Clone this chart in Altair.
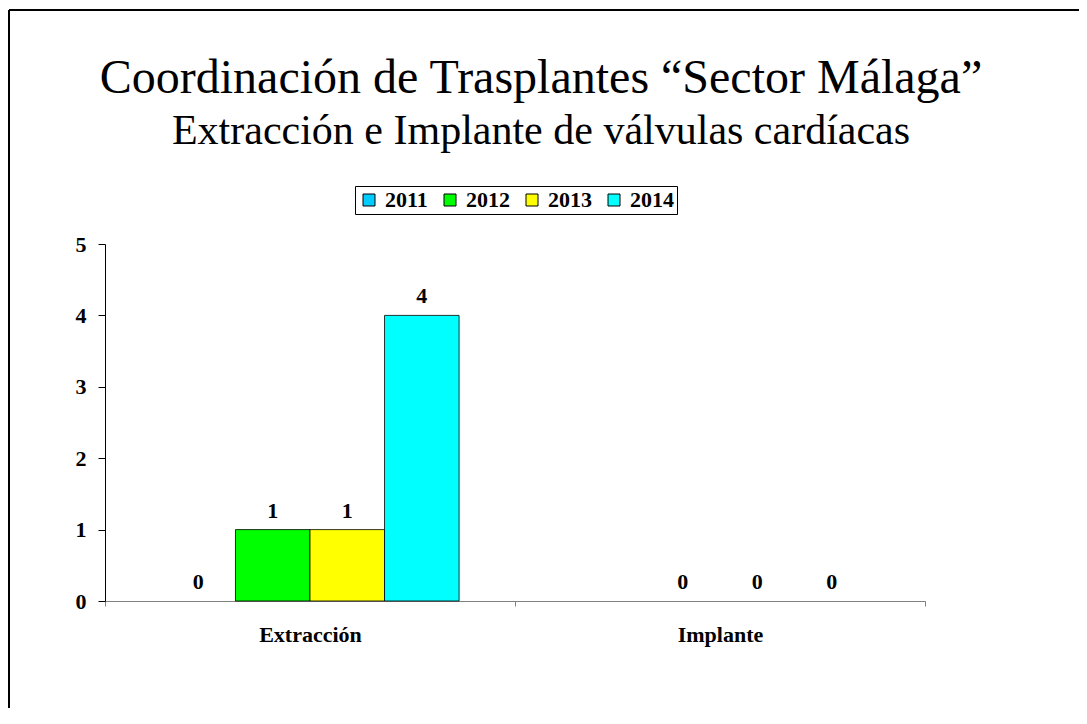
import altair as alt
import pandas as pd

categories = ["Extracción", "Implante"]
years = ["2011", "2012", "2013", "2014"]
extraccion = [0, 1, 1, 4]
implante = [None, 0, 0, 0]
colors = ["#00CCFF", "#00FF00", "#FFFF00", "#00FFFF"]

rows = []
for cat, vals in zip(categories, [extraccion, implante]):
    for y, v in zip(years, vals):
        rows.append({"categoria": cat, "year": y, "value": v})
df = pd.DataFrame(rows)

SERIF = "Liberation Serif"

x_enc = alt.X(
    "categoria:N",
    sort=categories,
    scale=alt.Scale(paddingInner=0, paddingOuter=0),
    axis=alt.Axis(
        title=None, labelAngle=0, domainColor="#808080", tickColor="#808080",
        tickBand="extent", tickSize=5, labelFont=SERIF, labelFontSize=22,
        labelFontWeight="bold", labelColor="black", labelPadding=18,
    ),
)
xo_enc = alt.XOffset("year:N", sort=years,
                     scale=alt.Scale(paddingOuter=0.75, paddingInner=0))
y_enc = alt.Y(
    "value:Q",
    scale=alt.Scale(domain=[0, 5]),
    axis=alt.Axis(
        title=None, values=[0, 1, 2, 3, 4, 5], grid=False, domainColor="black",
        tickColor="black", tickSize=7, labelFont=SERIF, labelFontSize=22,
        labelFontWeight="bold", labelColor="black", labelPadding=12,
    ),
)

base = alt.Chart(df)

bars = base.transform_filter("datum.value > 0").mark_bar(
    stroke="black", strokeWidth=0.8
).encode(
    x=x_enc, xOffset=xo_enc, y=y_enc,
    color=alt.Color(
        "year:N",
        scale=alt.Scale(domain=years, range=colors),
        legend=alt.Legend(
            title=None, orient="none", legendX=250, legendY=-58,
            direction="horizontal", symbolType="square", symbolSize=144,
            symbolStrokeColor="black", symbolStrokeWidth=1,
            labelFont=SERIF, labelFontSize=22, labelFontWeight="bold",
            labelColor="black", strokeColor="black", fillColor="white",
            padding=3, columnPadding=11, labelOffset=5,
        ),
    ),
)

labels = base.transform_filter("isValid(datum.value)").mark_text(
    baseline="alphabetic", dy=-12, font=SERIF, fontSize=22,
    fontWeight="bold", color="black"
).encode(x=x_enc, xOffset=xo_enc, y=y_enc, text="value:Q")

border_top = alt.Chart(df).mark_rule(color="black", strokeWidth=2).encode(
    x=alt.value(-96), x2=alt.value(980), y=alt.value(-234)
)
border_left = alt.Chart(df).mark_rule(color="black", strokeWidth=2).encode(
    x=alt.value(-96), y=alt.value(-234), y2=alt.value(470)
)

chart = alt.layer(bars, labels, border_top, border_left).properties(
    width=820,
    height=357,
    padding={"left": 97, "top": 236, "right": 154, "bottom": 107},
    autosize=alt.AutoSizeParams(type="none"),
    title=alt.TitleParams(
        text="Coordinación de Trasplantes “Sector Málaga”",
        subtitle="Extracción e Implante de válvulas cardíacas",
        font=SERIF, fontSize=48, fontWeight="normal", color="black",
        subtitleFont=SERIF, subtitleFontSize=42, subtitleColor="black",
        subtitlePadding=8, anchor="middle", dx=26, offset=-143,
    ),
).configure(background="white", view=alt.ViewConfig(stroke=None))

chart.save("out.html", embed_options={"renderer": "svg", "actions": False})
